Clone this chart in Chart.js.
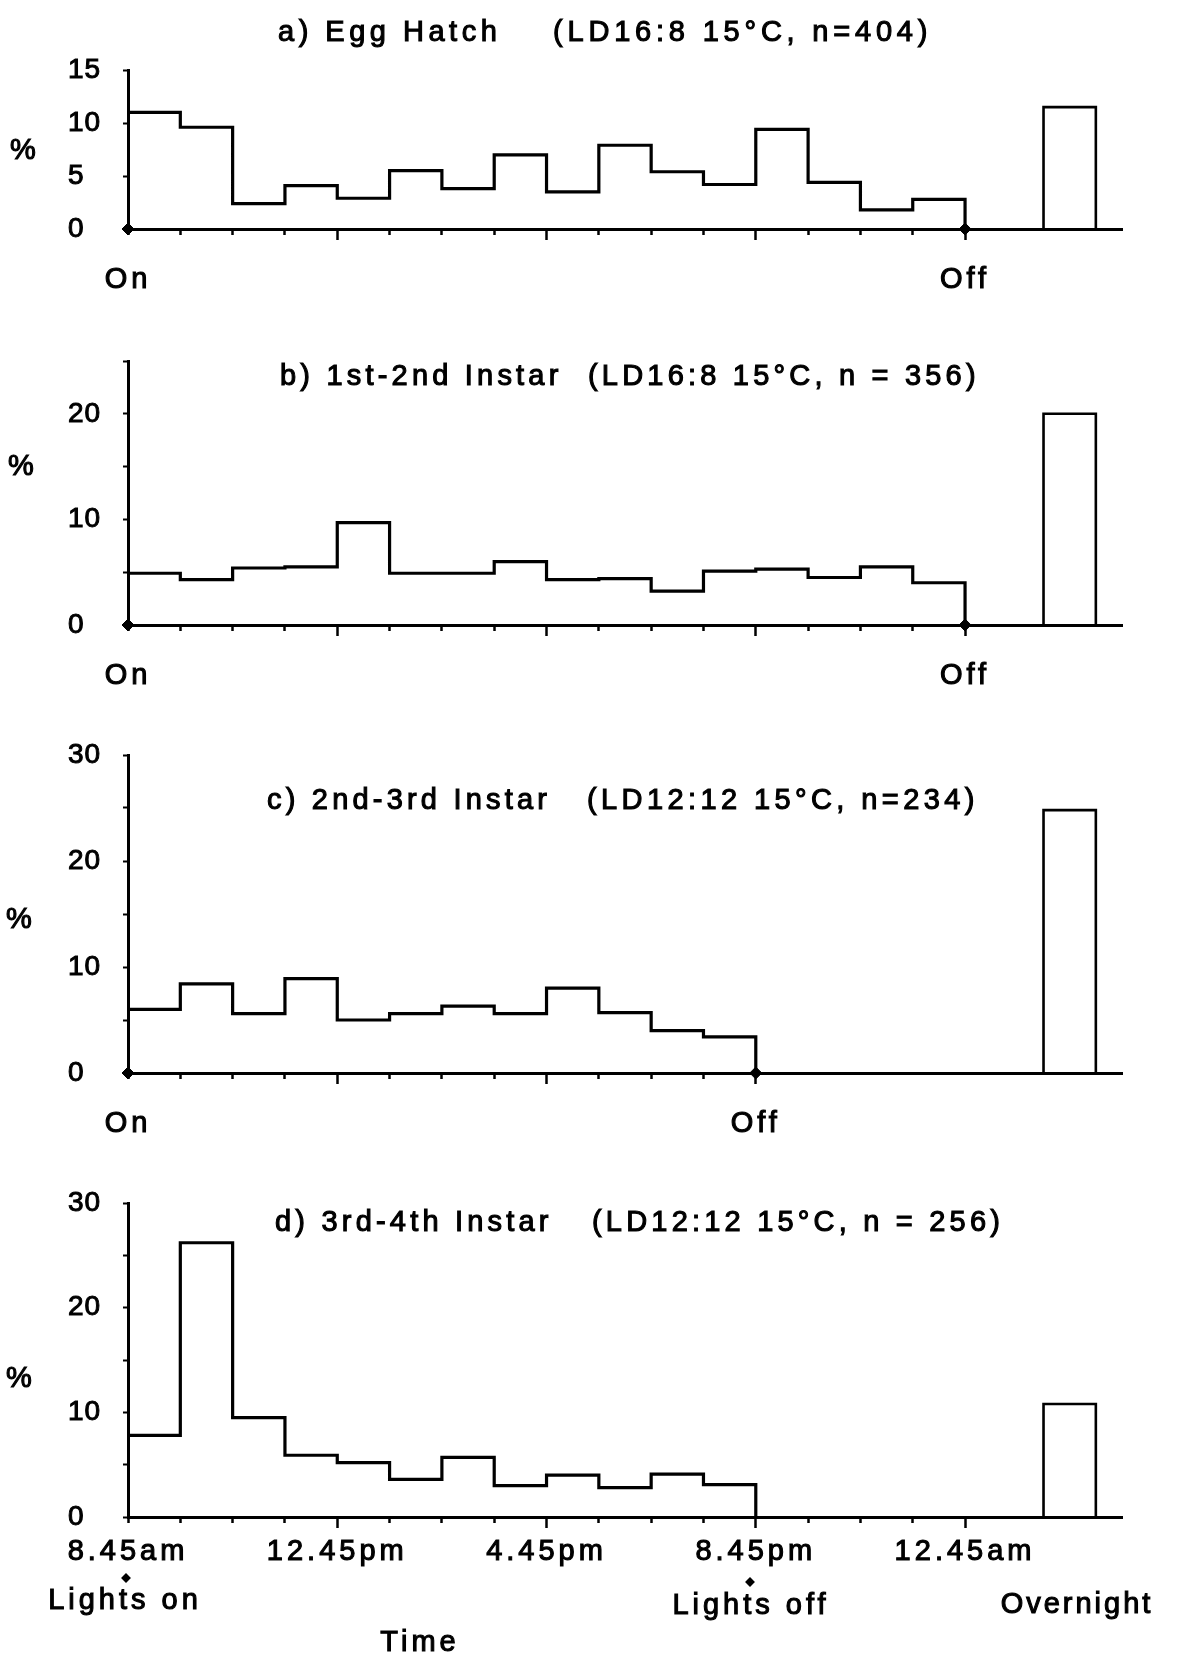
<!DOCTYPE html>
<html><head><meta charset="utf-8">
<script src="https://cdn.jsdelivr.net/npm/chart.js@4.4.1/dist/chart.umd.min.js"></script>
<style>
html,body{margin:0;padding:0;background:#fff;}
body{width:1178px;height:1658px;position:relative;overflow:hidden;font-family:'Liberation Sans',Arial,sans-serif;color:#000;}
canvas{position:absolute;left:0;}
.t{position:absolute;font-size:29px;line-height:1;letter-spacing:4px;white-space:pre;transform:translateY(-50%);z-index:2;-webkit-text-stroke:1.1px #000;}
.c{transform:translate(-50%,-50%);}
.dm{position:absolute;width:7px;height:7px;background:#000;transform:translate(-50%,-50%) rotate(45deg);z-index:2;}
</style></head><body>
<canvas id="ca" width="1178" height="260" style="top:40px"></canvas>
<canvas id="cb" width="1178" height="370" style="top:330px"></canvas>
<canvas id="cc" width="1178" height="425" style="top:725px"></canvas>
<canvas id="cd" width="1178" height="485" style="top:1173px"></canvas>

<div class="t" style="left:278px;top:31px;letter-spacing:4.5px">a) Egg Hatch</div>
<div class="t" style="left:553px;top:31px;letter-spacing:4.8px">(LD16:8 15°C, n=404)</div>
<div class="t" style="left:280px;top:375px;letter-spacing:4.2px">b) 1st-2nd Instar</div>
<div class="t" style="left:588px;top:375px;letter-spacing:4.2px">(LD16:8 15°C, n = 356)</div>
<div class="t" style="left:267px;top:799px;letter-spacing:4.2px">c) 2nd-3rd Instar</div>
<div class="t" style="left:587px;top:799px;letter-spacing:4.4px">(LD12:12 15°C, n=234)</div>
<div class="t" style="left:275px;top:1221px;letter-spacing:4.2px">d) 3rd-4th Instar</div>
<div class="t" style="left:592px;top:1221px;letter-spacing:4.2px">(LD12:12 15°C, n = 256)</div>

<div class="t c" style="left:25px;top:149px">%</div>
<div class="t c" style="left:23px;top:465px">%</div>
<div class="t c" style="left:21px;top:918px">%</div>
<div class="t c" style="left:21px;top:1377px">%</div>

<div class="dm" style="left:126px;top:1578px"></div>
<div class="dm" style="left:750px;top:1582px"></div>
<div class="t c" style="left:125px;top:1599px">Lights on</div>
<div class="t c" style="left:751px;top:1604px">Lights off</div>
<div class="t c" style="left:1077px;top:1603px;letter-spacing:3px">Overnight</div>
<div class="t c" style="left:420px;top:1641px">Time</div>

<script>
// ---- data (percent of individuals per 1-hour bin after lights on) ----
const hatchValues = [11.0, 9.6, 2.4, 4.1, 2.9, 5.5, 3.8, 7.0, 3.5, 7.9, 5.4, 4.2, 9.4, 4.4, 1.8, 2.8];
const hatchOvernight = 11.5;
const instar12Values = [4.9, 4.3, 5.4, 5.5, 9.7, 4.9, 4.9, 6.0, 4.3, 4.4, 3.2, 5.1, 5.3, 4.5, 5.5, 4.0];
const instar12Overnight = 20.0;
const instar23Values = [6.0, 8.4, 5.6, 8.9, 5.0, 5.6, 6.3, 5.6, 8.0, 5.7, 4.0, 3.4];
const instar23Overnight = 24.8;
const instar34Values = [7.8, 26.2, 9.5, 5.9, 5.2, 3.6, 5.7, 3.0, 4.0, 2.8, 4.1, 3.1];
const instar34Overnight = 10.8;
const overnightBin = [17.5, 18.5];      // hours after lights on
const xMaxHours = 19;

// ---- ticks ----
const hourTicks16 = [0, 1, 2, 3, 4, 5, 6, 7, 8, 9, 10, 11, 12, 13, 14, 15, 16];
const hourTicks12 = [0, 1, 2, 3, 4, 5, 6, 7, 8, 9, 10, 11, 12];
const majorHours = [4, 8, 12, 16];
const onOffHours16 = [0, 16];
const onOffHours12 = [0, 12];
const onOffLabels = ['On', 'Off'];
const timeHours = [0, 4, 8, 12, 16];
const timeLabels = ['8.45am', '12.45pm', '4.45pm', '8.45pm', '12.45am'];
const yTicks15 = [0, 5, 10, 15];
const yTicks25 = [0, 5, 10, 15, 20, 25];
const yTicks30 = [0, 5, 10, 15, 20, 25, 30];
const yLabels15 = [0, 5, 10, 15];
const yLabels10s = [0, 10, 20, 30];

Chart.defaults.font.family = "'Liberation Sans', Arial, sans-serif";
Chart.defaults.color = '#000';

const spacingPlugin = {
  id: 'spacing',
  beforeDraw(c) { c.ctx.letterSpacing = '4px'; },
  afterDatasetsDraw(c) { c.ctx.letterSpacing = '1px'; }
};

function stepPoints(vals) {
  const pts = [{x: 0, y: 0}];
  vals.forEach((v, i) => pts.push({x: i, y: v}));
  pts.push({x: vals.length, y: 0});
  return pts;
}

function makePanel(id, p) {
  const ctx = document.getElementById(id);
  const datasets = [];
  if (p.markerHours) {
    datasets.push({
      data: p.markerHours.map(h => ({x: h, y: 0})),
      showLine: false, pointStyle: 'rectRot', pointRadius: 6,
      pointBackgroundColor: '#000', pointBorderColor: '#000', clip: false
    });
  }
  datasets.push({
    data: stepPoints(p.values), stepped: true,
    borderColor: '#000', borderWidth: 3.2, pointRadius: 0, fill: false, tension: 0
  });
  datasets.push({
    data: [{x: overnightBin[0], y: 0}, {x: overnightBin[0], y: p.overnight},
           {x: overnightBin[1], y: p.overnight}, {x: overnightBin[1], y: 0}],
    borderColor: '#000', borderWidth: 2.6, pointRadius: 0, fill: false, tension: 0
  });
  const H = ctx.height;
  const xH = H - p.axisY;
  return new Chart(ctx, {
    type: 'line',
    data: {datasets},
    plugins: [spacingPlugin],
    options: {
      responsive: false, animation: false, devicePixelRatio: 1,
      layout: {padding: {left: 68, right: 56, top: p.padTop, bottom: 0}},
      plugins: {legend: {display: false}, tooltip: {enabled: false}},
      scales: {
        x: {
          type: 'linear', min: 0, max: xMaxHours,
          afterBuildTicks: s => { s.ticks = p.xTicks.map(v => ({value: v})); },
          afterFit: s => { s.height = xH; s.paddingLeft = 0; s.paddingRight = 0; },
          grid: {drawOnChartArea: false, drawTicks: true, tickLength: 11, tickWidth: 2.5, tickColor: '#000',
                 tickBorderDash: c => (c.tick && majorHours.includes(c.tick.value)) ? [] : [4, 40]},
          border: {display: true, color: '#000', width: 3},
          ticks: {autoSkip: false, maxRotation: 0, minRotation: 0, padding: p.xPad,
                  font: {size: 29}, color: '#000', textStrokeColor: '#000', textStrokeWidth: 1.1,
                  callback: v => { const i = p.labelHours.indexOf(v); return i >= 0 ? p.labelTexts[i] : ''; }}
        },
        y: {
          type: 'linear', min: 0, max: p.yMax,
          afterBuildTicks: s => { s.ticks = p.yTicks.map(v => ({value: v})); },
          afterFit: s => { s.width = 60; s.paddingTop = 0; s.paddingBottom = 0; },
          grid: {drawOnChartArea: false, drawTicks: true, tickLength: 5, tickWidth: 2, tickColor: '#000'},
          border: {display: true, color: '#000', width: 3},
          ticks: {crossAlign: 'far', font: {size: 28}, color: '#000', z: 1,
                  textStrokeColor: '#000', textStrokeWidth: 1,
                  callback: v => p.yLabels.includes(v) ? String(v) : ''}
        }
      }
    }
  });
}

makePanel('ca', {values: hatchValues, overnight: hatchOvernight, yMax: 15, yTicks: yTicks15, yLabels: yLabels15,
  padTop: 30, axisY: 189, xTicks: hourTicks16, labelHours: onOffHours16, labelTexts: onOffLabels,
  markerHours: onOffHours16, xPad: 23});
makePanel('cb', {values: instar12Values, overnight: instar12Overnight, yMax: 25, yTicks: yTicks25, yLabels: yLabels10s,
  padTop: 31, axisY: 295, xTicks: hourTicks16, labelHours: onOffHours16, labelTexts: onOffLabels,
  markerHours: onOffHours16, xPad: 23});
makePanel('cc', {values: instar23Values, overnight: instar23Overnight, yMax: 30, yTicks: yTicks30, yLabels: yLabels10s,
  padTop: 30, axisY: 348, xTicks: hourTicks12, labelHours: onOffHours12, labelTexts: onOffLabels,
  markerHours: onOffHours12, xPad: 23});
makePanel('cd', {values: instar34Values, overnight: instar34Overnight, yMax: 30, yTicks: yTicks30, yLabels: yLabels10s,
  padTop: 30, axisY: 344, xTicks: hourTicks16, labelHours: timeHours, labelTexts: timeLabels,
  markerHours: null, xPad: 7});
</script>
</body></html>
